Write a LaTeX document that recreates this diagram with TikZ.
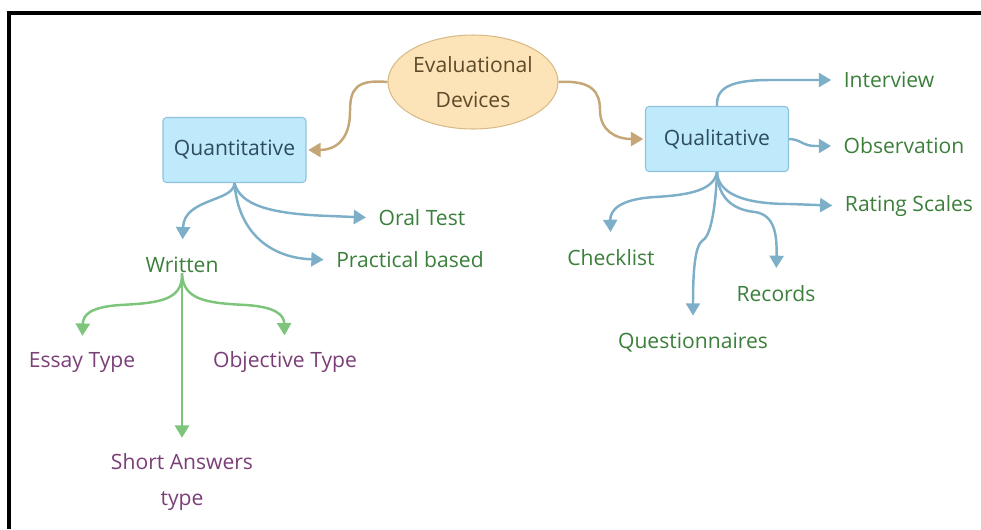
\documentclass[tikz,border=0pt]{standalone}
\usepackage{fontspec}
\setmainfont{Open Sans}
\usetikzlibrary{arrows.meta, shapes.geometric}
\definecolor{boxfill}{HTML}{BEEAFC}
\definecolor{boxline}{HTML}{8EC3DB}
\definecolor{boxtext}{HTML}{2E4D5C}
\definecolor{rootfill}{HTML}{FDE4B8}
\definecolor{rootline}{HTML}{D8BA86}
\definecolor{roottext}{HTML}{5C4A2A}
\definecolor{tanlink}{HTML}{C5A677}
\definecolor{bluelink}{HTML}{7EAFC8}
\definecolor{greenlink}{HTML}{7DC57A}
\definecolor{leafgreen}{HTML}{3B7F3B}
\definecolor{leafpurple}{HTML}{7B3F78}

\begin{document}
\begin{tikzpicture} [x = 0.02cm, y = -0.02cm, font = \fontsize{12}{14}\selectfont,
  root/.style = {draw = rootline, fill = rootfill, ellipse, line width = .6pt, minimum width = 3.4cm, minimum height = 1.88cm, inner sep = 0pt, text = roottext, align = center, font = \fontsize{12}{20}\selectfont},
  topic/.style = {draw = boxline, fill = boxfill, rounded corners = 2pt, line width = .6pt, minimum width = 2.86cm, minimum height = 1.3cm, text = boxtext},
  leaf/.style = {text = leafgreen, inner sep = 0pt},
  subleaf/.style = {text = leafpurple, inner sep = 0pt, align = center, font = \fontsize{12}{20}\selectfont},
  tip/.style = {-{Triangle[width = 8pt, length = 7pt]}, line width = 1.4pt},
  rootlink/.style = {tip, draw = tanlink, shorten > = 1pt},
  sidelink/.style = {tip, draw = bluelink, shorten > = 7pt},
  downlink/.style = {tip, draw = bluelink, shorten > = 10pt},
  sublink/.style = {tip, draw = greenlink, shorten > = 9pt}]
\useasboundingbox (0,0) rectangle (981,529);
\draw[line width = 2pt] (9,529) -- (9,13) -- (982,13);

\node[root](ev) at (473,82) {Evaluational\\Devices};
\node[topic](qn) at (234.5,150) {Quantitative};
\node[topic](ql) at (717,139) {Qualitative};

\node[leaf](iv) at (889,80) {Interview};
\node[leaf](ob) at (904,146) {Observation};
\node[leaf](rs) at (909,206) {Rating Scales};
\node[leaf](cl) at (611,258) {Checklist};
\node[leaf](rc) at (776,294) {Records};
\node[leaf](qu) at (693,343) {Questionnaires};

\node[leaf](wr) at (182,265) {Written};
\node[leaf](ot) at (422,218) {Oral Test};
\node[leaf](pb) at (410,260) {Practical based};

\node[subleaf](es) at (82,362) {Essay Type};
\node[subleaf](oj) at (285,362) {Objective Type};
\node[subleaf](sa) at (182,482) {Short Answers\\type};

\draw[rootlink] (ev.west) .. controls (355,79) and (350,90) .. (350,112) .. controls (350,140) and (335,150) .. (qn.east);
\draw[rootlink] (ev.east) .. controls (592,80) and (600,92) .. (600,110) .. controls (600,130) and (615,139) .. (ql.west);

\draw[sidelink] (ql.north) .. controls (716,88) and (730,80) .. (770,80) -- (iv.west);
\draw[sidelink] (ql.east) .. controls (800,139) and (803,146) .. (815,146) -- (ob.west);
\draw[sidelink] (ql.south) .. controls (718,192) and (740,204) .. (790,204) -- (rs.west);
\draw[downlink] (ql.south) .. controls (714,190) and (690,195) .. (655,197) .. controls (620,199) and (610,210) .. (cl.north);
\draw[downlink] (ql.south) .. controls (716,200) and (712,235) .. (703,240) .. controls (695,245) and (693,270) .. (qu.north);
\draw[downlink] (ql.south) .. controls (718,200) and (735,210) .. (755,212) .. controls (775,215) and (777,235) .. (rc.north);

\draw[downlink] (qn.south) .. controls (234,202) and (184,198) .. (wr.north);
\draw[sidelink] (qn.south) .. controls (240,205) and (270,214) .. (330,216) -- (ot.west);
\draw[sidelink] (qn.south) .. controls (238,232) and (270,258) .. (pb.west);

\draw[sublink] (wr.south) .. controls (183,300) and (160,303) .. (120,305) .. controls (90,307) and (83,315) .. (es.north);
\draw[sublink] (wr.south) .. controls (183,300) and (206,303) .. (246,305) .. controls (276,307) and (284,315) .. (oj.north);
\draw[sublink] (wr.south) -- (sa.north);
\end{tikzpicture}
\end{document}
